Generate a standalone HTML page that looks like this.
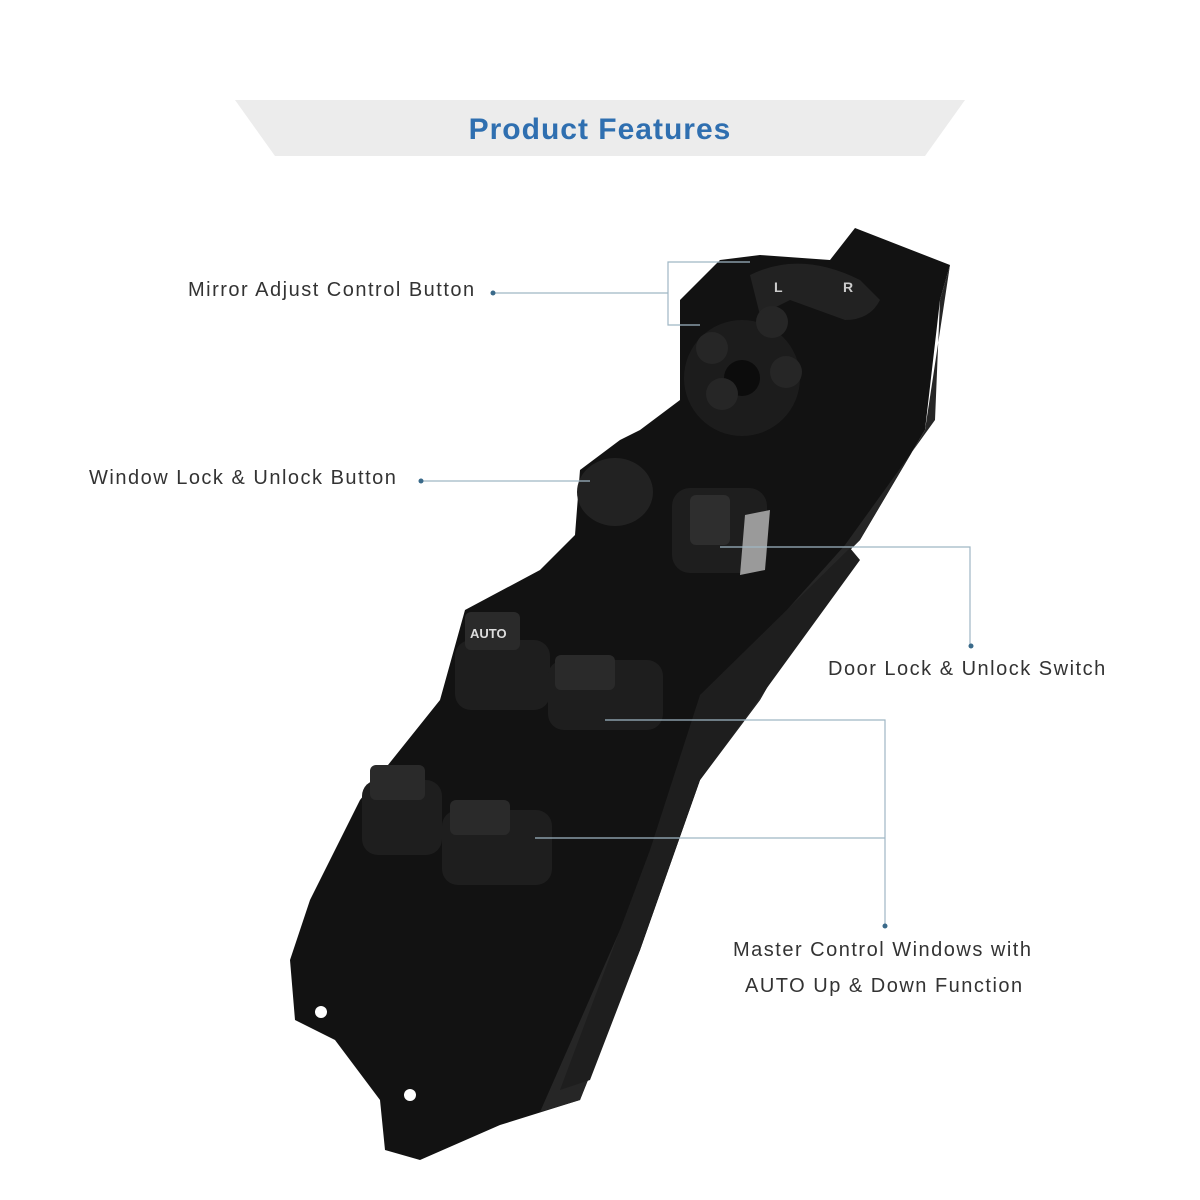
<!DOCTYPE html>
<html><head><style>
html,body{margin:0;padding:0;background:#fff;}
.wrap{position:relative;width:1200px;height:1200px;overflow:hidden;font-family:"Liberation Sans",Arial,sans-serif;}
svg{position:absolute;left:0;top:0;}
.lbl{position:absolute;font-size:20px;letter-spacing:1.5px;color:#333;white-space:nowrap;}
</style></head><body><div class="wrap">
<svg width="1200" height="1200" viewBox="0 0 1200 1200">
<polygon points="235,100 965,100 925,156 275,156" fill="#ececec"/>
<text x="600" y="139" text-anchor="middle" font-family="Liberation Sans, Arial, sans-serif" font-weight="bold" font-size="30" letter-spacing="1" fill="#2f6fb0">Product Features</text>
<polygon points="640,430 680,400 680,300 720,260 760,255 830,260 855,228 950,265 940,300 925,430 860,540 840,560 760,700 700,780 640,950 580,1100 500,1125 420,1160 385,1150 380,1100 335,1040 295,1020 290,960 310,900 360,800 440,700 465,610 540,570 575,535 580,470 620,440" fill="#121212"/>
<polygon points="845,545 935,420 940,300 950,265 925,430 860,540 840,560 760,700 700,780 640,950 580,1100 540,1112 620,930 690,760 760,640" fill="#262626"/>
<polygon points="700,695 850,548 860,560 700,780 640,950 590,1080 560,1090 650,850" fill="#1e1e1e"/>
<path d="M750,275 Q800,250 860,280 L880,300 Q870,320 845,320 L790,300 L760,315 Z" fill="#222"/>
<text x="774" y="292" font-size="14" font-weight="bold" fill="#ccc" font-family="Liberation Sans">L</text>
<text x="843" y="292" font-size="14" font-weight="bold" fill="#ccc" font-family="Liberation Sans">R</text>
<circle cx="742" cy="378" r="58" fill="#1c1c1c"/>
<circle cx="742" cy="378" r="18" fill="#0c0c0c"/>
<circle cx="772" cy="322" r="16" fill="#262626"/>
<circle cx="712" cy="348" r="16" fill="#262626"/>
<circle cx="786" cy="372" r="16" fill="#262626"/>
<circle cx="722" cy="394" r="16" fill="#262626"/>
<ellipse cx="615" cy="492" rx="38" ry="34" fill="#222"/>
<rect x="672" y="488" width="95" height="85" rx="18" fill="#1e1e1e"/>
<rect x="690" y="495" width="40" height="50" rx="6" fill="#2e2e2e"/>
<polygon points="745,515 770,510 765,570 740,575" fill="#9a9a9a"/>
<rect x="455" y="640" width="95" height="70" rx="16" fill="#1e1e1e"/>
<rect x="465" y="612" width="55" height="38" rx="6" fill="#2a2a2a"/>
<text x="470" y="638" font-size="13" font-weight="bold" fill="#ddd" font-family="Liberation Sans">AUTO</text>
<rect x="548" y="660" width="115" height="70" rx="16" fill="#1e1e1e"/>
<rect x="555" y="655" width="60" height="35" rx="6" fill="#2a2a2a"/>
<rect x="362" y="780" width="80" height="75" rx="16" fill="#1e1e1e"/>
<rect x="370" y="765" width="55" height="35" rx="6" fill="#2a2a2a"/>
<rect x="442" y="810" width="110" height="75" rx="16" fill="#1e1e1e"/>
<rect x="450" y="800" width="60" height="35" rx="6" fill="#2a2a2a"/>
<circle cx="321" cy="1012" r="6" fill="#fff"/>
<circle cx="410" cy="1095" r="6" fill="#fff"/>
<g stroke="#9fb6c4" stroke-width="1.2" fill="none">
<line x1="494" y1="293" x2="668" y2="293"/>
<polyline points="750,262 668,262 668,325 700,325"/>
<line x1="423" y1="481" x2="590" y2="481"/>
<polyline points="720,547 970,547 970,645"/>
<polyline points="605,720 885,720 885,925"/>
<line x1="535" y1="838" x2="885" y2="838"/>
</g>
<g fill="#3a6a8a"><circle cx="493" cy="293" r="2.5"/><circle cx="421" cy="481" r="2.5"/><circle cx="971" cy="646" r="2.5"/><circle cx="885" cy="926" r="2.5"/></g>
</svg>
<div class="lbl" style="left:188px;top:279px;">Mirror Adjust Control Button</div>
<div class="lbl" style="left:89px;top:467px;">Window Lock &amp; Unlock Button</div>
<div class="lbl" style="left:828px;top:658px;">Door Lock &amp; Unlock Switch</div>
<div class="lbl" style="left:733px;top:939px;">Master Control Windows with</div>
<div class="lbl" style="left:745px;top:975px;">AUTO Up &amp; Down Function</div>
</div></body></html>
